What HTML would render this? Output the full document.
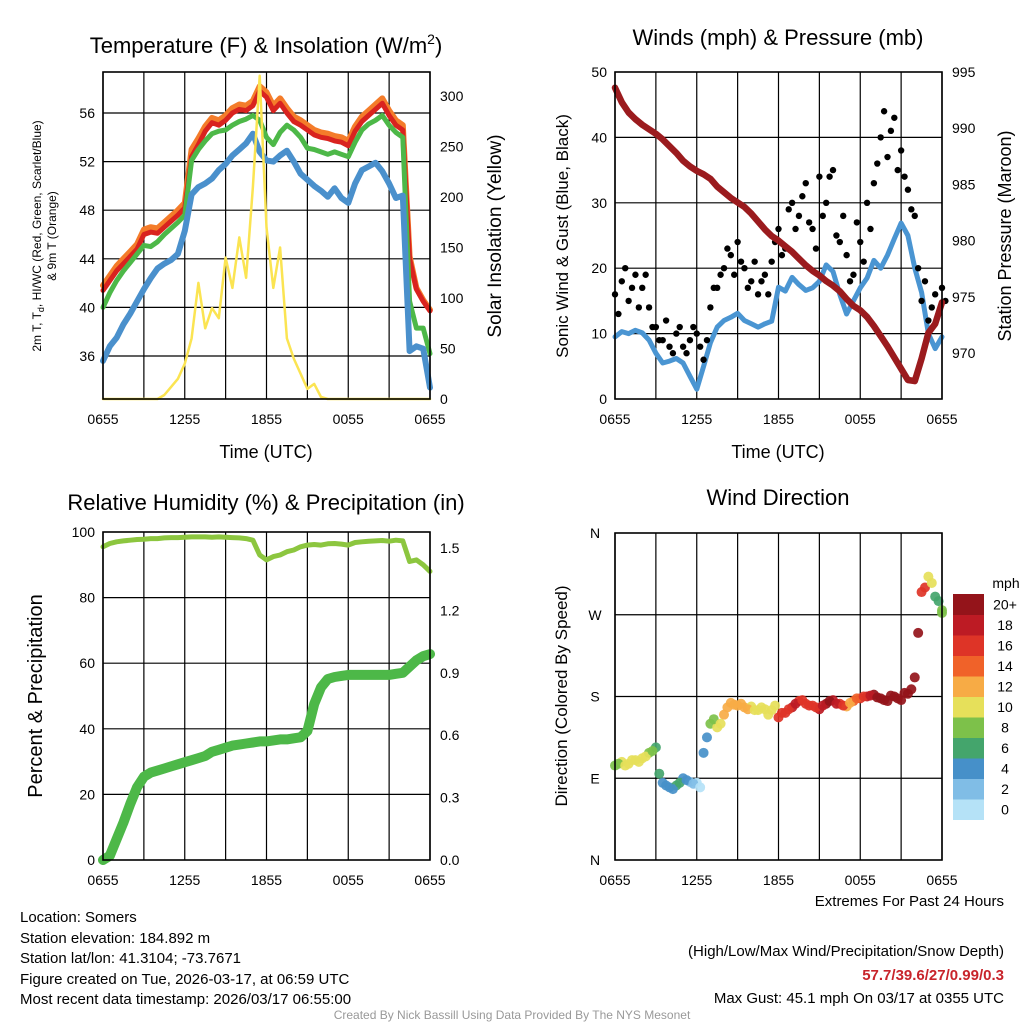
<!DOCTYPE html>
<html><head><meta charset="utf-8"><style>
body{margin:0;background:#fff}
svg{display:block;font-family:"Liberation Sans",Arial,sans-serif}
</style></head><body>
<svg id="s" width="1024" height="1024" viewBox="0 0 1024 1024" xmlns="http://www.w3.org/2000/svg">
<rect width="1024" height="1024" fill="#fff"/>
<g id="g1"></g>
<g id="g2"></g>
<g id="g3"></g>
<g id="g4"></g>
<g font-size="22" text-anchor="middle">
<text x="266" y="53">Temperature (F) &amp; Insolation (W/m<tspan font-size="14" dy="-9">2</tspan><tspan dy="9">)</tspan></text>
<text x="778" y="45">Winds (mph) &amp; Pressure (mb)</text>
<text x="266" y="510">Relative Humidity (%) &amp; Precipitation (in)</text>
<text x="778" y="505">Wind Direction</text>
</g>
<g font-size="18" text-anchor="middle">
<text x="266" y="458">Time (UTC)</text>
<text x="778" y="458">Time (UTC)</text>
<text transform="translate(41,236) rotate(-90)" font-size="12">2m T, T<tspan font-size="9" dy="3">d</tspan><tspan dy="-3">, HI/WC (Red, Green, Scarlet/Blue)</tspan></text>
<text transform="translate(56,236) rotate(-90)" font-size="12">&amp; 9m T (Orange)</text>
<text transform="translate(501,236) rotate(-90)" font-size="19">Solar Insolation (Yellow)</text>
<text transform="translate(568,236) rotate(-90)" font-size="17">Sonic Wind &amp; Gust (Blue, Black)</text>
<text transform="translate(1011,236) rotate(-90)" font-size="18">Station Pressure (Maroon)</text>
<text transform="translate(42,696) rotate(-90)" font-size="20">Percent &amp; Precipitation</text>
<text transform="translate(567,696) rotate(-90)" font-size="17">Direction (Colored By Speed)</text>
</g>
<g font-size="15">
<text x="20" y="922">Location: Somers</text>
<text x="20" y="943">Station elevation: 184.892 m</text>
<text x="20" y="963">Station lat/lon: 41.3104; -73.7671</text>
<text x="20" y="984">Figure created on Tue, 2026-03-17, at 06:59 UTC</text>
<text x="20" y="1004">Most recent data timestamp: 2026/03/17 06:55:00</text>
</g>
<g font-size="15" text-anchor="end">
<text x="1004" y="906">Extremes For Past 24 Hours</text>
<text x="1004" y="956">(High/Low/Max Wind/Precipitation/Snow Depth)</text>
<text x="1004" y="980" fill="#c8242b" font-weight="bold">57.7/39.6/27/0.99/0.3</text>
<text x="1004" y="1003">Max Gust: 45.1 mph On 03/17 at 0355 UTC</text>
</g>
<text x="512" y="1019" font-size="12" fill="#999" text-anchor="middle">Created By Nick Bassill Using Data Provided By The NYS Mesonet</text>
</svg>
<script>
const timeLabels=["0655","1255","1855","0055","0655"];
const tempRed=[41.4,42.2,43.0,43.6,44.2,44.8,46.0,46.2,46.1,46.6,47.1,47.6,48.2,52.4,53.4,54.5,55.2,55.0,55.4,56.0,56.3,56.2,56.6,57.8,57.3,56.2,56.8,56.0,55.3,55.0,54.6,54.2,54.0,53.9,53.7,53.6,53.3,54.5,55.3,55.8,56.3,56.8,55.8,55.0,54.6,44.0,41.5,40.5,39.7];
const tempOrange=[41.8,42.6,43.4,44.0,44.6,45.2,46.4,46.6,46.5,47.0,47.5,48.0,48.6,53.0,53.9,54.9,55.6,55.4,55.8,56.4,56.7,56.6,57.0,58.2,57.7,56.6,57.2,56.4,55.7,55.4,55.0,54.6,54.4,54.3,54.1,54.0,53.7,54.9,55.7,56.2,56.7,57.2,56.2,55.4,55.0,44.2,41.6,40.6,39.8];
const tempGreen=[40.0,41.2,42.2,43.0,43.7,44.4,45.1,45.0,45.4,46.0,46.5,47.0,47.6,52.1,53.0,53.7,54.3,54.5,54.6,55.0,55.3,55.5,55.8,55.4,54.0,53.4,54.4,55.0,54.6,54.0,53.1,53.0,52.8,52.6,52.8,52.6,52.4,53.6,54.6,55.1,55.4,55.8,55.0,54.4,54.0,40.5,38.3,38.3,36.2];
const tempBlue=[35.6,36.8,37.5,38.6,39.5,40.5,41.5,42.4,43.2,43.6,43.9,44.4,46.3,49.3,49.9,50.2,50.6,51.3,51.8,52.5,53.0,53.5,54.3,52.8,52.1,52.0,52.5,52.9,52.0,51.0,50.5,50.0,49.6,49.1,49.8,49.0,48.6,50.2,51.3,51.6,51.9,51.2,50.2,49.0,49.2,36.4,36.8,36.6,33.4];
const solar=[0,0,0,0,0,0,0,0,0,4,12,20,35,60,115,70,90,80,140,110,160,120,210,320,170,110,150,60,40,25,10,15,2,0,0,0,0,0,0,0,0,0,0,0,0,0,0,0,0];
const tempTicks=[36,40,44,48,52,56];
const solarTicks=[0,50,100,150,200,250,300];
const wind=[9.5,10.3,10.0,10.5,10.1,9.0,7.0,5.5,5.8,6.2,5.5,3.5,1.5,5.0,8.6,11.0,12.0,12.5,13.1,12.0,11.5,11.0,11.5,11.9,17.1,16.5,18.6,17.5,16.6,17.0,18.0,20.5,19.5,16.0,13.0,15.0,17.0,18.5,21.2,20.0,22.0,24.5,26.9,25.0,20.0,16.3,10.0,7.7,9.5];
const gustA=[16,18,15,19,17,14,11,9,8,10,8,9,10,6,14,17,20,22,24,20,18,16,19,21,26,23,30,28,33,26,34,30,35,24,22,19,24,30,33,40,37,43,38,32,28,15,12,16,17];
const gustB=[13,20,17,14,19,11,9,12,7,11,7,11,8,9,17,19,23,19,21,17,21,18,16,24,22,29,26,31,27,23,28,34,25,28,18,27,21,26,36,44,41,35,34,29,20,18,14,13,15];
const pressure=[993.6,992.3,991.4,990.8,990.3,989.9,989.5,989.0,988.4,987.8,987.1,986.6,986.2,985.9,985.5,984.8,984.3,983.8,983.4,983.0,982.4,981.7,981.0,980.4,980.0,979.5,979.0,978.4,977.8,977.3,976.9,976.4,976.0,975.5,974.8,974.2,973.8,973.2,972.4,971.5,970.6,969.6,968.6,967.6,967.5,969.5,971.8,972.6,974.5];
const windTicks=[0,10,20,30,40,50];
const presTicks=[970,975,980,985,990,995];
const rh=[95.5,96.5,97,97.3,97.5,97.7,97.8,98,98,98.2,98.3,98.3,98.4,98.5,98.5,98.5,98.4,98.5,98.4,98.3,98.2,98.0,97.5,93.0,91.5,92.5,93.0,94.0,94.5,95.5,96.0,96.2,96.0,96.4,96.5,96.3,96.0,96.8,97.0,97.2,97.3,97.4,97.2,97.5,97.3,91.0,91.5,90.0,88.0];
const precip=[0,0.02,0.1,0.18,0.27,0.35,0.4,0.42,0.43,0.44,0.45,0.46,0.47,0.48,0.49,0.5,0.52,0.53,0.54,0.55,0.555,0.56,0.565,0.57,0.57,0.575,0.58,0.58,0.585,0.59,0.62,0.75,0.83,0.87,0.88,0.885,0.89,0.89,0.89,0.89,0.89,0.89,0.89,0.895,0.9,0.93,0.96,0.98,0.99];
const pctTicks=[0,20,40,60,80,100];
const inTicks=["0.0","0.3","0.6","0.9","1.2","1.5"];
const direction=[104,108,106,110,112,118,124,85,80,82,90,86,85,118,150,146,160,173,170,168,169,165,166,165,157,162,168,175,172,170,166,172,176,172,169,175,178,180,182,178,175,180,176,183,201,295,312,290,275];
const directionB=[106,104,110,108,114,120,95,82,78,85,88,84,80,135,155,150,168,171,172,166,165,168,160,170,162,166,172,176,170,168,170,175,172,170,173,178,180,181,179,176,181,178,184,188,250,300,305,285,272];
const dirTicks=["N","E","S","W","N"];
const speedLabels=["0","2","4","6","8","10","12","14","16","18","20+"];
const speedColors=["#b5e2f7","#80bde6","#4690c9","#44a56c","#7dc14a","#e6e05a","#f7ab45","#f06229","#de3427","#bd1b24","#94141a"];

const NS="http://www.w3.org/2000/svg";
function mk(p,tag,at){const e=document.createElementNS(NS,tag);for(const k in at)e.setAttribute(k,at[k]);p.appendChild(e);return e;}
function scale(d0,d1,r0,r1){return v=>r0+(v-d0)/(d1-d0)*(r1-r0);}
function hourX(P){return i=>P.x0+(i*0.5)/24*(P.x1-P.x0);}

function frame(g,P,name){
  for(let h=0;h<=24;h+=3){const x=P.x0+h/24*(P.x1-P.x0);
    const l=mk(g,'line',{x1:x,x2:x,y1:P.y0,y2:P.y1,stroke:'#000','stroke-width':1.2});
    
    }
  if(P.xlabels){timeLabels.forEach((t,k)=>{const x=P.x0+k*6/24*(P.x1-P.x0);
    const tx=mk(g,'text',{x:x,y:P.y1+25,'font-size':14,'text-anchor':'middle'});tx.textContent=t;
    
    });}
}
function box(g,P){const r=mk(g,'rect',{x:P.x0,y:P.y0,width:P.x1-P.x0,height:P.y1-P.y0,fill:'none',stroke:'#000','stroke-width':1.6});
  
  }
function hgrid(g,P,y){const l=mk(g,'line',{x1:P.x0,x2:P.x1,y1:y,y2:y,stroke:'#000','stroke-width':1.2});
  
  }
function label(g,x,y,t,anchor,name){const e=mk(g,'text',{x:x,y:y+5,'font-size':14,'text-anchor':anchor});e.textContent=t;
  
  }
function line(g,arr,X,Y,color,w,name){const d=arr.map((v,i)=>(i?'L':'M')+X(i).toFixed(1)+','+Y(v).toFixed(1)).join('');
  const p=mk(g,'path',{d:d,fill:'none',stroke:color,'stroke-width':w,'stroke-linejoin':'round','stroke-linecap':'round'});
  
  }

// Panel 1
(function(){const g=document.getElementById('g1');const P={x0:103,x1:430,y0:72,y1:399,xlabels:true};
  const Y=scale(36,56,356,113),Ys=scale(0,300,399,96),X=hourX(P);
  frame(g,P);
  tempTicks.forEach(t=>{hgrid(g,P,Y(t));label(g,P.x0-8,Y(t),String(t),'end','y-tick-label-temp');});
  solarTicks.forEach(t=>label(g,P.x1+10,Ys(t),String(t),'start','y-tick-label-solar'));
  line(g,tempOrange,X,Y,'#f47c2a',6,'line-9m-temp');
  line(g,tempRed,X,Y,'#d9231f',5,'line-2m-temp');
  line(g,tempGreen,X,Y,'#4db848',5,'line-dewpoint');
  line(g,tempBlue,X,Y,'#4a90cc',6,'line-heat-index');
  line(g,solar,X,Ys,'#fbe452',2.5,'line-solar');
  box(g,P);})();

// Panel 2
(function(){const g=document.getElementById('g2');const P={x0:615,x1:942,y0:72,y1:399,xlabels:true};
  const Y=scale(0,50,399,72),Yp=scale(970,995,353,72),X=hourX(P);
  frame(g,P);
  windTicks.forEach(t=>{if(t>0&&t<50)hgrid(g,P,Y(t));label(g,P.x0-8,Y(t),String(t),'end','y-tick-label-wind');});
  presTicks.forEach(t=>label(g,P.x1+10,Yp(t),String(t),'start','y-tick-label-pressure'));
  line(g,wind,X,Y,'#4a95d2',5,'line-sonic-wind');
  gustA.forEach((v,i)=>{const c=mk(g,'circle',{cx:X(i),cy:Y(v),r:3.2,fill:'#000'});
    
    });
  gustB.forEach((v,i)=>{const c=mk(g,'circle',{cx:X(i+0.5),cy:Y(v),r:3.2,fill:'#000'});
    
    });
  line(g,pressure,X,Yp,'#9b1b1e',6.5,'line-pressure');
  box(g,P);})();

// Panel 3
(function(){const g=document.getElementById('g3');const P={x0:103,x1:430,y0:532,y1:860,xlabels:true};
  const Y=scale(0,100,860,532),Yi=scale(0,1.5,860,548),X=hourX(P);
  frame(g,P);
  pctTicks.forEach(t=>{if(t>0&&t<100)hgrid(g,P,Y(t));label(g,P.x0-8,Y(t),String(t),'end','y-tick-label-percent');});
  inTicks.forEach(t=>label(g,P.x1+10,Yi(parseFloat(t)),t,'start','y-tick-label-precip'));
  line(g,rh,X,Y,'#8cc63f',5,'line-relative-humidity');
  line(g,precip,X,Yi,'#4db848',10,'line-precipitation');
  box(g,P);})();

// Panel 4
(function(){const g=document.getElementById('g4');const P={x0:615,x1:942,y0:533,y1:860,xlabels:true};
  const Y=scale(0,360,860,533),X=hourX(P);
  frame(g,P);
  dirTicks.forEach((t,k)=>{const y=Y(k*90);if(k>0&&k<4)hgrid(g,P,y);label(g,P.x0-20,y,t,'middle','y-tick-label-direction');});
  function dot(xi,v,s){const idx=Math.min(10,Math.max(0,Math.floor(s/2)));
    const c=mk(g,'circle',{cx:X(xi),cy:Y(v),r:5,fill:speedColors[idx],'fill-opacity':0.92});
    
    }
  direction.forEach((v,i)=>dot(i,v,wind[i]));
  directionB.forEach((v,i)=>dot(Math.min(i+0.5,48),v,wind[i]));
  box(g,P);
  const cb=mk(g,'g',{});
  
  
  const bx=953,bw=31,top=594,bh=20.5;
  speedColors.forEach((c,k)=>{const y=top+(10-k)*bh;
    const r=mk(cb,'rect',{x:bx,y:y,width:bw,height:bh+0.5,fill:c});
    
    
    const t=mk(cb,'text',{x:1005,y:y+bh/2+5,'font-size':14,'text-anchor':'middle'});t.textContent=speedLabels[k];
    
    });
  const u=mk(cb,'text',{x:1006,y:588,'font-size':14,'text-anchor':'middle'});u.textContent='mph';
  
  
})();
</script>
</body></html>
